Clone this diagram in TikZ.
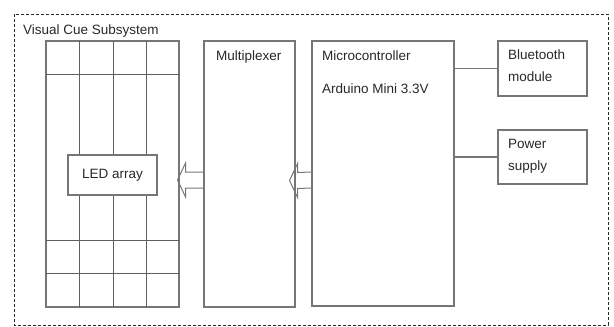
\documentclass[tikz,border=0pt]{standalone}
\usepackage{fontspec}
\setmainfont{Liberation Sans}
\usetikzlibrary{calc}
\definecolor{linegray}{RGB}{118,118,118}
\definecolor{textgray}{RGB}{40,40,40}
\tikzset{
    block/.style={draw=linegray,line width=1.1pt,inner sep=0pt},
    txt/.style={anchor=north west,inner sep=0pt,text=textgray,
        font=\fontsize{13.5}{22}\selectfont,align=left},
    hollow/.style={draw=linegray,line width=1pt,line join=miter},
}
% open block arrow from #1 (base) to #2 (tip)
\newcommand{\blockarrow}[2]{%
    \draw[hollow] ($(#1)+(0,-8)$) -- ($(#2)+(8,-8)$) -- ($(#2)+(8,-17)$)
        -- (#2) -- ($(#2)+(8,17)$) -- ($(#2)+(8,8)$) -- ($(#1)+(0,8)$);
}
\begin{document}
\begin{tikzpicture}[x=1pt,y=-1pt]
        \useasboundingbox (0,0) rectangle (614,327);

        % subsystem frame
        \draw[dash pattern=on 3pt off 2pt,line width=0.9pt,textgray] (14,14) rectangle (608,325);
        \node[txt] (title) at (23,25) {Visual Cue Subsystem};

        % LED grid
        \node[block,minimum width=133,minimum height=266] (grid) at (112.5,174) {};
        \foreach \x in {79,113,146}{
                \draw[linegray!80!black,line width=0.8pt] (\x,41) -- (\x,307);
            }
        \foreach \y in {74,240,273}{
                \draw[linegray!80!black,line width=0.8pt] (46,\y) -- (179,\y);
            }
        \node[block,fill=white,minimum width=89,minimum height=40,
            text=textgray,font=\fontsize{13.5}{16}\selectfont] (led) at (112.5,175) {LED array};

        % main blocks
        \node[block,minimum width=91,minimum height=266] (mux) at (249.5,174) {};
        \node[txt] (muxtxt) at (216,51) {Multiplexer};

        \node[block,minimum width=142,minimum height=265] (mcu) at (383,173.5) {};
        \node[txt] (mcutxt) at (322,51) {Microcontroller};
        \node[txt] (ardtxt) at (322,84) {Arduino Mini 3.3V};

        \node[block,minimum width=89,minimum height=55] (bt) at (542.5,68.5) {};
        \node[txt] (bttxt) at (508,50) {Bluetooth\\module};

        \node[block,minimum width=89,minimum height=54] (pwr) at (542.5,157) {};
        \node[txt] (pwrtxt) at (508,139) {Power\\supply};

        % links
        \draw[linegray,line width=1.1pt] (bt.west) -- (bt.west -| mcu.east);
        \draw[linegray,line width=1.1pt] (pwr.west) -- (pwr.west -| mcu.east);

        \coordinate (muxbase) at ($(mux.west)+(0,6)$);
        \coordinate (gridtip) at ($(grid.east)+(-2,6)$);
        \coordinate (mcubase) at ($(mcu.west)+(0,6.5)$);
        \coordinate (muxtip) at ($(mux.east)+(-6,6.5)$);
        \blockarrow{muxbase}{gridtip}
        \blockarrow{mcubase}{muxtip}
    \end{tikzpicture}
\end{document}
